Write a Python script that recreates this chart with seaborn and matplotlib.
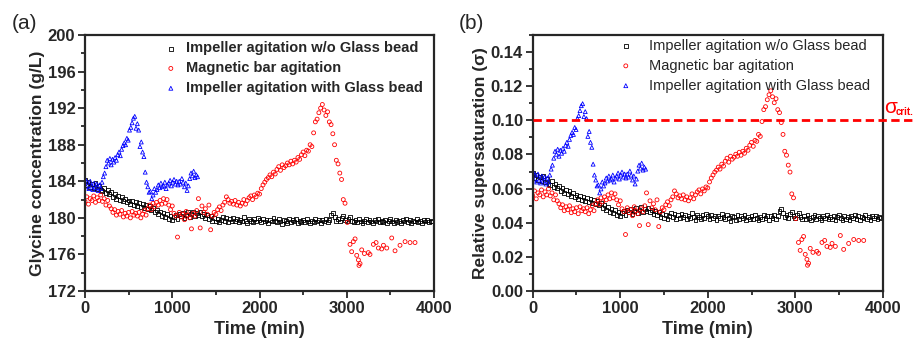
"""
glycine crystallisation runs: concentration and relative supersaturation
two panels, three agitation modes
"""
import matplotlib as mpl
mpl.use('Agg')
import matplotlib.pyplot as plt
from matplotlib.ticker import MultipleLocator, FormatStrFormatter
import seaborn as sns
import numpy as np
import pandas as pd

sns.set_style('ticks')
plt.rcParams['font.family'] = ['Liberation Sans', 'DejaVu Sans']

# ============================================ #
# DATA
# ============================================ #
labels = ['Impeller agitation w/o Glass bead',
          'Magnetic bar agitation',
          'Impeller agitation with Glass bead']

# impeller w/o beads, sampled every 20 min, 0..3980
black_step = 20
black_conc = [
    184.1, 183.6, 183.9, 183.4, 183.7, 183.3, 183.8, 183.2, 183.5, 183.0,
    182.9, 183.3, 182.7, 183.0, 182.6, 182.8, 182.3, 182.6, 182.1, 182.4,
    182.0, 182.3, 181.8, 182.1, 181.7, 181.9, 181.5, 181.8, 181.4, 181.7,
    181.3, 181.6, 181.2, 181.5, 181.1, 181.4, 181.0, 181.3, 180.9, 181.1,
    180.6, 180.9, 180.4, 180.7, 180.2, 180.5, 180.1, 180.4, 179.9, 180.2,
    179.8, 180.1, 180.3, 179.9, 180.4, 180.2, 180.5, 180.0, 180.3, 180.6,
    180.1, 180.4, 180.7, 180.2, 180.5, 180.3, 180.6, 180.2, 180.4, 180.0,
    180.3, 179.9, 180.2, 179.7, 180.0, 179.6, 179.9, 179.5, 179.8, 180.1,
    179.7, 180.0, 179.5, 179.9, 179.6, 180.0, 179.7, 179.9, 179.5, 179.8,
    179.6, 180.1, 179.7, 179.4, 179.9, 179.7, 179.5, 179.9, 179.6, 180.0,
    179.8, 179.5, 179.9, 179.6, 179.8, 179.4, 179.8, 179.6, 180.0, 179.7,
    179.5, 179.9, 179.6, 179.3, 179.8, 179.7, 179.4, 179.9, 179.5, 179.8,
    179.6, 179.9, 179.4, 179.7, 179.5, 179.8, 179.5, 179.9, 179.6, 179.4,
    179.7, 179.5, 179.9, 179.6, 179.8, 179.4, 179.8, 179.6, 179.9, 179.5,
    179.8, 180.3, 180.5, 180.1, 179.7, 179.9, 179.6, 180.0, 180.2, 179.8,
    179.6, 179.9, 180.1, 179.7, 179.5, 179.8, 179.5, 179.9, 179.6, 179.4,
    179.7, 179.9, 179.5, 179.8, 179.6, 179.4, 179.8, 179.6, 179.9, 179.5,
    179.7, 179.5, 179.8, 179.4, 179.7, 179.9, 179.6, 179.4, 179.8, 179.5,
    179.7, 179.4, 179.8, 179.6, 179.9, 179.5, 179.8, 179.4, 179.7, 179.6,
    179.9, 179.5, 179.7, 179.4, 179.8, 179.6, 179.8, 179.5, 179.7, 179.6]

# magnetic bar, every 20 min up to 2980, then sparse points
red_step = 20
red_conc = [
    181.8, 182.3, 181.5, 182.1, 181.9, 182.4, 181.7, 182.2, 181.9, 182.5,
    181.8, 182.1, 181.4, 181.9, 181.3, 181.0, 180.6, 180.9, 180.3, 180.7,
    180.4, 180.8, 180.1, 180.5, 180.2, 180.6, 180.0, 180.7, 180.3, 180.5,
    180.2, 180.6, 180.0, 180.4, 180.8, 180.3, 181.0, 181.4, 180.9, 181.6,
    181.2, 181.7, 181.4, 181.9, 181.5, 182.1, 181.6, 182.0, 181.4, 180.9,
    181.3, 180.5, 180.2, 177.9, 180.6, 180.1, 180.4, 179.8, 180.7, 180.3,
    180.0, 178.8, 180.5, 180.2, 180.8, 182.1, 178.9, 181.3, 180.6, 181.0,
    180.4, 181.4, 178.7, 180.2, 180.6, 180.4, 180.9, 181.2, 180.8, 181.4,
    181.7, 182.3, 182.0, 181.6, 181.8, 181.5, 181.9, 181.4, 181.7, 181.3,
    181.6, 182.0, 181.5, 181.9, 182.2, 182.4, 182.0, 182.5, 182.3, 182.7,
    182.6, 183.2, 183.6, 183.9, 184.2, 184.4, 184.7, 184.5, 185.0, 184.8,
    185.3, 185.6, 185.2, 185.8, 185.5, 185.7, 186.0, 185.8, 186.2, 185.9,
    186.3, 186.1, 186.6, 186.4, 186.9, 187.2, 186.8, 187.4, 187.3, 188.0,
    187.8, 189.3, 190.5, 190.8, 191.5, 192.0, 192.4, 191.8, 191.2, 191.6,
    190.5, 190.2, 189.2, 188.0, 186.3, 185.9, 184.9, 184.2, 182.0, 181.6]
red_tail_t = [3006, 3037, 3056, 3075, 3095, 3114, 3133, 3140, 3152, 3171,
              3202, 3247, 3266, 3305, 3336, 3362, 3400, 3420, 3458, 3515,
              3553, 3610, 3668, 3725, 3782]
red_tail_conc = [179.5, 177.1, 176.3, 177.4, 177.7, 175.9, 175.4, 174.8, 175.0, 176.5,
                 176.1, 176.2, 176.0, 177.1, 177.3, 176.7, 176.6, 177.0, 176.7, 177.8,
                 176.4, 177.0, 177.4, 177.3, 177.3]

# impeller with glass beads, every 15 min, 0..1290
blue_step = 15
blue_conc = [
    184.3, 183.4, 183.9, 183.2, 184.0, 183.5, 183.1, 183.8,
    183.3, 183.7, 183.0, 183.6, 183.2, 183.9, 184.5, 184.9,
    185.6, 186.3, 186.0, 186.5, 185.8, 186.4, 186.1, 186.6,
    186.3, 186.9, 187.2, 186.8, 187.5, 187.9, 188.2, 188.0,
    188.7, 188.5, 189.6, 189.9, 190.4, 190.9, 191.1, 189.8,
    190.3, 189.6, 187.8, 188.3, 187.2, 186.7, 185.0, 183.9,
    183.4, 182.8, 182.9, 182.1, 182.5, 183.2, 182.8, 183.1,
    183.6, 183.3, 183.8, 183.4, 183.5, 183.9, 183.2, 183.6,
    183.8, 184.1, 183.5, 183.9, 184.2, 183.7, 184.0, 183.6,
    184.0, 183.7, 184.3, 183.9, 183.4, 183.8, 183.0, 183.5,
    184.3, 184.9, 184.6, 185.1, 184.4, 184.7, 184.5]

c_sat = 172.2        # solubility (g/L), sigma = C/C* - 1
sigma_crit = 0.10

# ============================================ #
# long table
# ============================================ #
black = pd.DataFrame({'time': np.arange(len(black_conc)) * black_step,
                      'conc': black_conc, 'run': labels[0]})
red = pd.DataFrame({'time': np.concatenate([np.arange(len(red_conc)) * red_step, red_tail_t]),
                    'conc': red_conc + red_tail_conc, 'run': labels[1]})
blue = pd.DataFrame({'time': np.arange(len(blue_conc)) * blue_step,
                     'conc': blue_conc, 'run': labels[2]})
df = pd.concat([black, red, blue], ignore_index=True)
df['sigma'] = df['conc'] / c_sat - 1

styles = {labels[0]: ('s', '#000000'),
          labels[1]: ('o', '#ff0000'),
          labels[2]: ('^', '#0000ff')}

fig = plt.figure(figsize=(9.13, 3.4), dpi=100)
axa = fig.add_axes([0.0931, 0.1441, 0.3823, 0.7529])
axb = fig.add_axes([0.5835, 0.1441, 0.3834, 0.7529])

for ax, var in zip([axa, axb], ['conc', 'sigma']):
    for lab in labels:
        mk, col = styles[lab]
        sub = df[df['run'] == lab]
        sns.scatterplot(data=sub, x='time', y=var, ax=ax, marker=mk, s=8,
                        color=col, facecolor='none', edgecolor=col,
                        linewidth=0.6, label=lab)
    ax.set_xlim(0, 4000)
    ax.xaxis.set_major_locator(MultipleLocator(1000))
    ax.xaxis.set_minor_locator(MultipleLocator(500))
    ax.tick_params(which='both', direction='out', top=False, right=False,
                   labelsize=12, width=1.3, pad=2)
    ax.tick_params(which='major', length=5)
    ax.tick_params(which='minor', length=3)
    for sp in ax.spines.values():
        sp.set_linewidth(1.6)
        sp.set_visible(True)
    ax.set_xlabel('Time (min)', fontsize=13, fontweight='bold', labelpad=4)

# panel a
axa.set_ylim(172, 200)
axa.yaxis.set_major_locator(MultipleLocator(4))
axa.yaxis.set_minor_locator(MultipleLocator(2))
axa.set_ylabel('Glycine concentration (g/L)', fontsize=12.5, fontweight='bold', labelpad=2)
axa.legend(loc='upper left', bbox_to_anchor=(0.225, 0.975), frameon=False,
           handlelength=1.0, handletextpad=0.55, labelspacing=0.4,
           borderpad=0, borderaxespad=0, scatterpoints=1,
           prop={'size': 10.5, 'weight': 'bold'})

# panel b
axb.set_ylim(0, 0.15)
axb.yaxis.set_major_locator(MultipleLocator(0.02))
axb.yaxis.set_minor_locator(MultipleLocator(0.01))
axb.yaxis.set_major_formatter(FormatStrFormatter('%.2f'))
axb.set_ylabel('Relative supersaturation (σ)', fontsize=12.5, fontweight='bold', labelpad=2)
axb.axhline(sigma_crit, xmin=0, xmax=1.088, color='#ff0000', ls=(0, (3, 1.6)),
            lw=2, clip_on=False, zorder=5)
axb.text(1.004, sigma_crit + 0.002, 'σ', color='#ff0000',
         transform=axb.get_yaxis_transform(), fontsize=15, ha='left', va='bottom')
axb.text(1.036, sigma_crit + 0.002, 'crit.', color='#ff0000', fontweight='bold',
         transform=axb.get_yaxis_transform(), fontsize=7, ha='left', va='bottom')
axb.legend(loc='upper left', bbox_to_anchor=(0.245, 0.985), frameon=False,
           handlelength=1.0, handletextpad=1.1, labelspacing=0.4,
           borderpad=0, borderaxespad=0, scatterpoints=1,
           prop={'size': 10.5})

for ax in (axa, axb):
    for lbl in ax.get_xticklabels() + ax.get_yticklabels():
        lbl.set_fontweight('bold')

fig.text(0.013, 0.915, '(a)', fontsize=15)
fig.text(0.503, 0.915, '(b)', fontsize=15)

fig.savefig('out.png', dpi=100, facecolor='white')
